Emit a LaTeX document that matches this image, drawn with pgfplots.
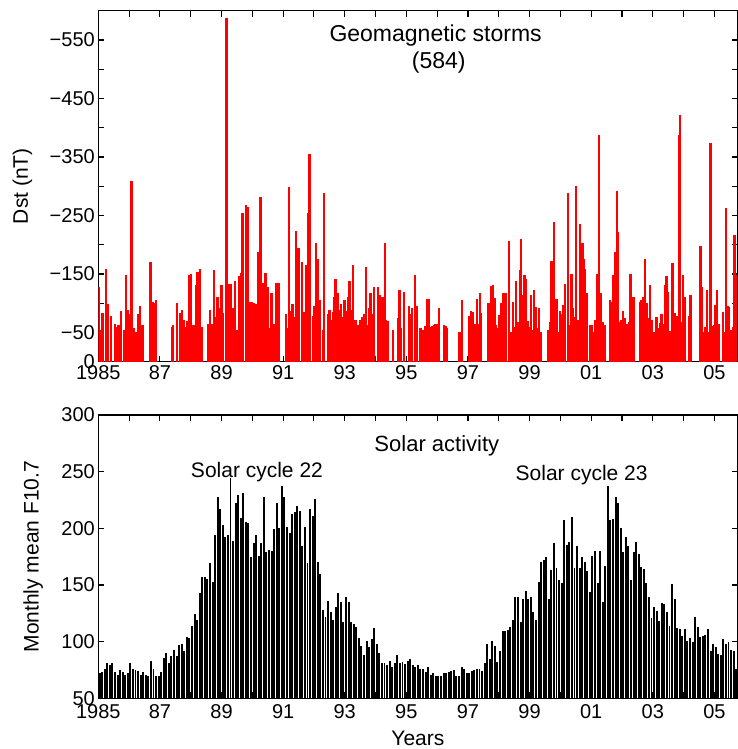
\documentclass[border=0pt]{standalone}
\usepackage{fontspec}
\setmainfont{Liberation Sans}
\usepackage{pgfplots}
\pgfplotsset{compat=1.18}
\usepackage{pgfplotstable}

% Monthly mean F10.7, Jan 1985 onwards (one value per month)
\pgfplotstableread[row sep=\\]{
y\\
72\\73\\76\\81\\79\\81\\73\\71\\75\\73\\71\\72\\
81\\76\\75\\74\\71\\73\\71\\70\\83\\76\\70\\70\\73\\
86\\90\\81\\87\\93\\87\\97\\98\\92\\104\\
103\\114\\124\\119\\143\\157\\157\\155\\169\\153\\
194\\228\\217\\203\\192\\194\\244\\189\\222\\229\\
209\\231\\206\\205\\175\\187\\194\\176\\187\\
228\\179\\181\\180\\199\\222\\200\\237\\228\\201\\
196\\213\\214\\220\\215\\184\\201\\169\\217\\
211\\226\\170\\160\\128\\122\\136\\126\\119\\131\\
143\\135\\117\\139\\135\\117\\116\\113\\103\\96\\
88\\101\\95\\102\\112\\98\\90\\81\\81\\79\\
83\\78\\81\\88\\81\\82\\80\\83\\85\\79\\
78\\79\\76\\76\\73\\78\\71\\72\\70\\70\\
70\\72\\72\\73\\74\\75\\70\\70\\78\\76\\
72\\72\\74\\75\\76\\76\\74\\81\\98\\85\\
101\\96\\82\\92\\109\\109\\110\\113\\119\\139\\
139\\117\\138\\
145\\138\\139\\126\\119\\153\\170\\172\\175\\138\\
163\\187\\165\\154\\152\\207\\185\\188\\210\\
165\\184\\165\\175\\170\\162\\144\\176\\180\\
152\\180\\135\\167\\237\\207\\208\\228\\222\\200\\
179\\192\\184\\154\\179\\188\\177\\166\\164\\152\\
139\\121\\131\\127\\118\\134\\133\\126\\114\\151\\
138\\112\\111\\105\\111\\101\\103\\100\\122\\
113\\104\\105\\106\\111\\92\\98\\95\\89\\88\\
102\\98\\100\\93\\92\\76\\
}\fdata

% Geomagnetic storms: time (years), minimum Dst (nT)
\pgfplotstableread[row sep=\\]{
x y\\
1985.012 -127\\1985.040 -54\\1985.141 -84\\1985.250 -159\\1985.325 -99\\1985.411 -78\\
1985.541 -64\\1985.595 -60\\1985.660 -63\\1985.736 -86\\1985.844 -54\\1985.890 -149\\
1985.952 -89\\1986.006 -81\\1986.082 -309\\1986.168 -57\\1986.244 -51\\1986.309 -81\\
1986.363 -95\\1986.439 -63\\1986.677 -171\\1986.709 -171\\1986.763 -102\\1986.817 -101\\
1986.871 -105\\1987.390 -60\\1987.433 -63\\1987.552 -101\\1987.650 -84\\1987.725 -89\\
1987.790 -71\\1987.844 -60\\1987.898 -70\\1987.952 -149\\1988.010 -150\\1988.093 -63\\
1988.169 -131\\1988.223 -153\\1988.298 -159\\1988.352 -60\\1988.569 -64\\1988.623 -88\\
1988.677 -64\\1988.763 -156\\1988.817 -77\\1988.871 -111\\1988.947 -91\\1989.001 -131\\
1989.055 -84\\1989.165 -587\\1989.196 -128\\1989.250 -132\\1989.290 -133\\1989.325 -84\\
1989.380 -91\\1989.434 -138\\1989.498 -54\\1989.574 -146\\1989.600 -145\\1989.640 -151\\
1989.682 -255\\1989.790 -268\\1989.850 -265\\1989.823 -85\\1989.877 -87\\1989.931 -102\\
1989.985 -102\\1990.061 -101\\1990.115 -99\\1990.180 -187\\1990.200 -162\\1990.270 -281\\
1990.300 -108\\1990.331 -134\\1990.385 -91\\1990.430 -151\\1990.493 -128\\1990.569 -57\\
1990.623 -117\\1990.709 -65\\1990.785 -134\\1990.872 -135\\1991.088 -81\\1991.142 -57\\
1991.196 -298\\1991.250 -87\\1991.304 -98\\1991.358 -77\\1991.412 -224\\1991.500 -195\\
1991.520 -108\\1991.610 -170\\1991.650 -77\\1991.682 -85\\1991.737 -165\\1991.810 -255\\
1991.860 -355\\1991.964 -78\\1992.018 -95\\1992.072 -203\\1992.140 -175\\1992.202 -105\\
1992.289 -54\\1992.332 -289\\1992.451 -81\\1992.505 -89\\1992.559 -71\\1992.613 -85\\
1992.667 -111\\1992.700 -141\\1992.775 -117\\1992.829 -89\\1992.883 -98\\1992.937 -77\\
1992.991 -105\\1993.045 -87\\1993.099 -111\\1993.150 -138\\1993.208 -88\\1993.262 -165\\
1993.348 -71\\1993.402 -63\\1993.456 -63\\1993.510 -71\\1993.564 -77\\1993.618 -82\\
1993.680 -162\\1993.727 -63\\1993.781 -91\\1993.835 -118\\1993.889 -82\\1993.943 -127\\
1994.073 -127\\1994.127 -114\\1994.181 -111\\1994.235 -111\\1994.300 -203\\1994.343 -71\\
1994.397 -70\\1994.559 -54\\1994.721 -74\\1994.775 -123\\1994.829 -57\\1994.916 -119\\
1995.078 -95\\1995.132 -82\\1995.186 -91\\1995.270 -149\\1995.294 -60\\1995.348 -95\\
1995.456 -57\\1995.510 -55\\1995.565 -54\\1995.619 -61\\1995.673 -108\\1995.727 -108\\
1995.781 -59\\1995.835 -61\\1995.889 -63\\1995.943 -64\\1995.997 -64\\1996.051 -91\\
1996.213 -63\\1996.267 -61\\1996.321 -57\\1996.721 -51\\1996.808 -105\\1997.024 -78\\
1997.100 -86\\1997.154 -85\\1997.240 -64\\1997.294 -108\\1997.338 -64\\1997.381 -117\\
1997.424 -84\\1997.640 -101\\1997.694 -101\\1997.749 -129\\1997.803 -131\\1997.857 -109\\
1997.911 -63\\1997.965 -57\\1998.019 -80\\1998.073 -101\\1998.127 -117\\1998.181 -117\\
1998.235 -117\\1998.322 -206\\1998.397 -51\\1998.451 -102\\1998.505 -60\\1998.570 -138\\
1998.613 -68\\1998.680 -156\\1998.733 -209\\1998.775 -114\\1998.840 -149\\1998.870 -142\\
1998.938 -70\\1998.992 -60\\1999.046 -114\\1999.100 -54\\1999.154 -123\\1999.208 -94\\
1999.262 -57\\1999.316 -91\\1999.359 -51\\1999.608 -54\\1999.662 -68\\1999.716 -173\\
1999.770 -68\\1999.803 -238\\1999.878 -108\\1999.932 -51\\1999.986 -86\\2000.040 -81\\
2000.095 -97\\2000.149 -132\\2000.257 -289\\2000.311 -63\\2000.365 -150\\2000.419 -91\\
2000.473 -77\\2000.516 -301\\2000.581 -72\\2000.635 -235\\2000.689 -203\\2000.722 -203\\
2000.754 -175\\2000.797 -159\\2000.851 -118\\2000.981 -63\\2001.035 -63\\2001.089 -51\\
2001.143 -72\\2001.197 -150\\2001.262 -388\\2001.316 -117\\2001.370 -68\\2001.446 -63\\
2001.608 -105\\2001.662 -102\\2001.716 -148\\2001.770 -187\\2001.835 -292\\2001.878 -222\\
2001.932 -68\\2001.987 -72\\2002.041 -86\\2002.095 -74\\2002.170 -64\\2002.224 -68\\
2002.278 -150\\2002.332 -111\\2002.387 -111\\2002.581 -102\\2002.635 -105\\2002.689 -110\\
2002.743 -176\\2002.797 -101\\2002.851 -74\\2002.906 -131\\2002.960 -71\\2003.014 -51\\
2003.068 -51\\2003.122 -77\\2003.176 -57\\2003.230 -67\\2003.284 -81\\2003.338 -65\\
2003.392 -131\\2003.446 -146\\2003.470 -145\\2003.500 -119\\2003.554 -53\\2003.640 -168\\
2003.717 -84\\2003.771 -78\\2003.840 -388\\2003.890 -422\\2003.933 -68\\2003.987 -148\\
2004.041 -111\\2004.171 -78\\2004.225 -114\\2004.549 -197\\2004.603 -128\\2004.657 -51\\
2004.711 -60\\2004.765 -123\\2004.819 -51\\2004.873 -374\\2004.927 -61\\2004.981 -63\\
2005.035 -97\\2005.089 -122\\2005.144 -65\\2005.284 -85\\2005.338 -51\\2005.381 -263\\
2005.425 -95\\2005.479 -94\\2005.533 -54\\2005.600 -60\\2005.652 -217\\2005.700 -148\\
}\storms

\begin{document}
\begin{tikzpicture}
\useasboundingbox (0,0) rectangle (738bp,-749bp);
\pgfplotsset{
  every axis/.append style={
    scale only axis, width=639.2bp,
    axis line style={line width=1.2bp},
    every tick/.style={black, line width=1.1bp},
    major tick length=6bp, minor tick length=6bp,
    tick label style={font=\fontsize{20bp}{24bp}\selectfont},
    label style={font=\fontsize{21bp}{25bp}\selectfont},
    /pgf/number format/assume math mode=true,
    xmin=1985, xmax=2005.75,
    xtick={1985,1987,1989,1991,1993,1995,1997,1999,2001,2003,2005},
    xticklabels={1985,87,89,91,93,95,97,99,01,03,05},
    minor xtick={1986,1988,1990,1992,1994,1996,1998,2000,2002,2004},
  }
}
% ---------------- top panel ----------------
\begin{axis}[
  at={(98.3bp,-361.7bp)}, anchor=south west,
  height=351bp,
  ymin=-600, ymax=0, y dir=reverse,
  ytick={0,-50,-150,-250,-350,-450,-550},
  yticklabels={0,−50,−150,−250,−350,−450,−550},
  minor ytick={-100,-200,-300,-400,-500},
  ylabel={Dst (nT)},
  ylabel style={at={(axis description cs:-0.1186,0.5)}, anchor=center},
]
\addplot[ycomb, color=red, line width=2.3bp] table[x=x, y=y] {\storms};
\node[anchor=base, font=\fontsize{23bp}{27bp}\selectfont] at (axis cs:1995.95,-547) {Geomagnetic storms};
\node[anchor=base, font=\fontsize{23bp}{27bp}\selectfont] at (axis cs:1996.05,-500.5) {(584)};
\end{axis}
% ---------------- bottom panel ----------------
\begin{axis}[
  at={(98.3bp,-698.3bp)}, anchor=south west,
  height=283.3bp,
  ymin=50, ymax=300,
  ytick={50,100,150,200,250,300},
  x tick label style={yshift=-3bp},
  ylabel={Monthly mean F10.7},
  ylabel style={at={(axis description cs:-0.1017,0.5)}, anchor=center},
  xlabel={Years},
  xlabel style={at={(axis description cs:0.5,0)}, anchor=base, yshift=-46.7bp},
]
\addplot[ycomb, color=black, line width=1.95bp] table[x expr=1985+(\coordindex+0.5)/12, y=y] {\fdata};
\node[anchor=base, font=\fontsize{22bp}{26bp}\selectfont] at (axis cs:1995.99,268.2) {Solar activity};
\node[anchor=base, font=\fontsize{21bp}{25bp}\selectfont] at (axis cs:1990.15,244.7) {Solar cycle 22};
\node[anchor=base, font=\fontsize{21bp}{25bp}\selectfont] at (axis cs:2000.69,241.8) {Solar cycle 23};
\end{axis}
\end{tikzpicture}
\end{document}
